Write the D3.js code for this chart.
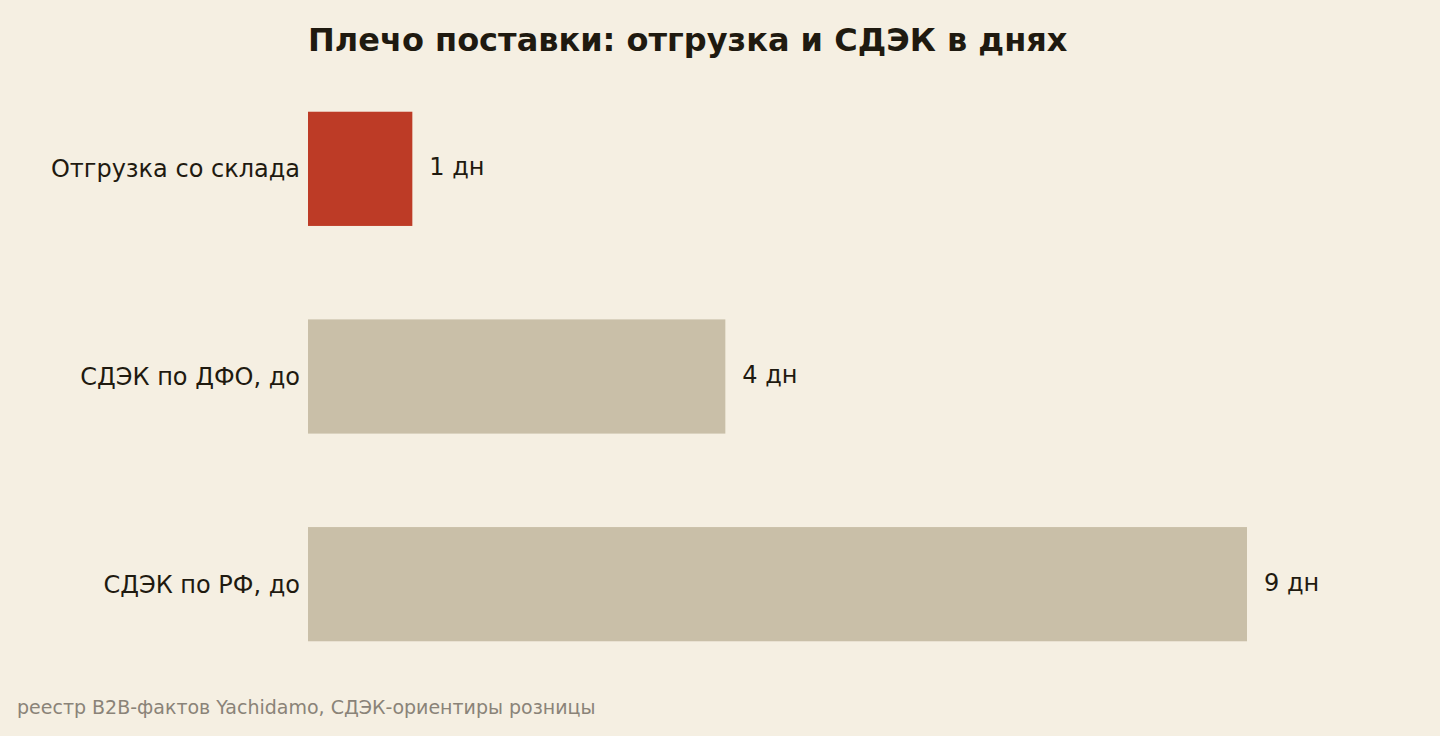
<!DOCTYPE html>
<html><head><meta charset="utf-8">
<script src="https://cdn.jsdelivr.net/npm/d3@7"></script>
<style>
body{margin:0;background:#f5efe2;}
svg{display:block;font-family:"DejaVu Sans",sans-serif;}
</style></head>
<body><div id="chart"></div>
<script>
const categories = ["Отгрузка со склада", "СДЭК по ДФО, до", "СДЭК по РФ, до"];
const days = [1, 4, 9];
const barColors = ["#bd3b26", "#c9bfa8", "#c9bfa8"];

const width = 1440, height = 736;
const svg = d3.select("#chart").append("svg")
    .attr("width", width).attr("height", height);

svg.append("rect").attr("width", width).attr("height", height).attr("fill", "#f5efe2");

const x = d3.scaleLinear().domain([0, 9]).range([308, 1247]);
const y = d3.scaleBand().domain(categories).range([65, 688])
    .paddingInner(0.45).paddingOuter(0.225);

// Title
svg.append("text")
    .attr("x", 308).attr("y", 51)
    .attr("font-size", 32).attr("font-weight", "bold").attr("fill", "#1f1a10")
    .text("Плечо поставки: отгрузка и СДЭК в днях");

// Bars
svg.selectAll(".bar")
    .data(categories)
    .enter().append("rect")
    .attr("class", "bar")
    .attr("x", x(0))
    .attr("y", d => y(d))
    .attr("width", (d, i) => x(days[i]) - x(0))
    .attr("height", y.bandwidth())
    .attr("fill", (d, i) => barColors[i]);

// Category labels
svg.selectAll(".cat")
    .data(categories)
    .enter().append("text")
    .attr("x", 300)
    .attr("y", d => y(d) + y.bandwidth() / 2)
    .attr("dy", "0.35em")
    .attr("text-anchor", "end")
    .attr("font-size", 24).attr("fill", "#1f1a10")
    .text(d => d);

// Value labels
svg.selectAll(".val")
    .data(categories)
    .enter().append("text")
    .attr("x", (d, i) => x(days[i]) + 17)
    .attr("y", d => y(d) + y.bandwidth() / 2 - 2)
    .attr("dy", "0.35em")
    .attr("font-size", 24).attr("fill", "#1f1a10")
    .text((d, i) => days[i] + " дн");

// Source
svg.append("text")
    .attr("x", 17).attr("y", 714)
    .attr("font-size", 19).attr("fill", "#8a8378")
    .text("реестр B2B-фактов Yachidamo, СДЭК-ориентиры розницы");
</script>
</body></html>
